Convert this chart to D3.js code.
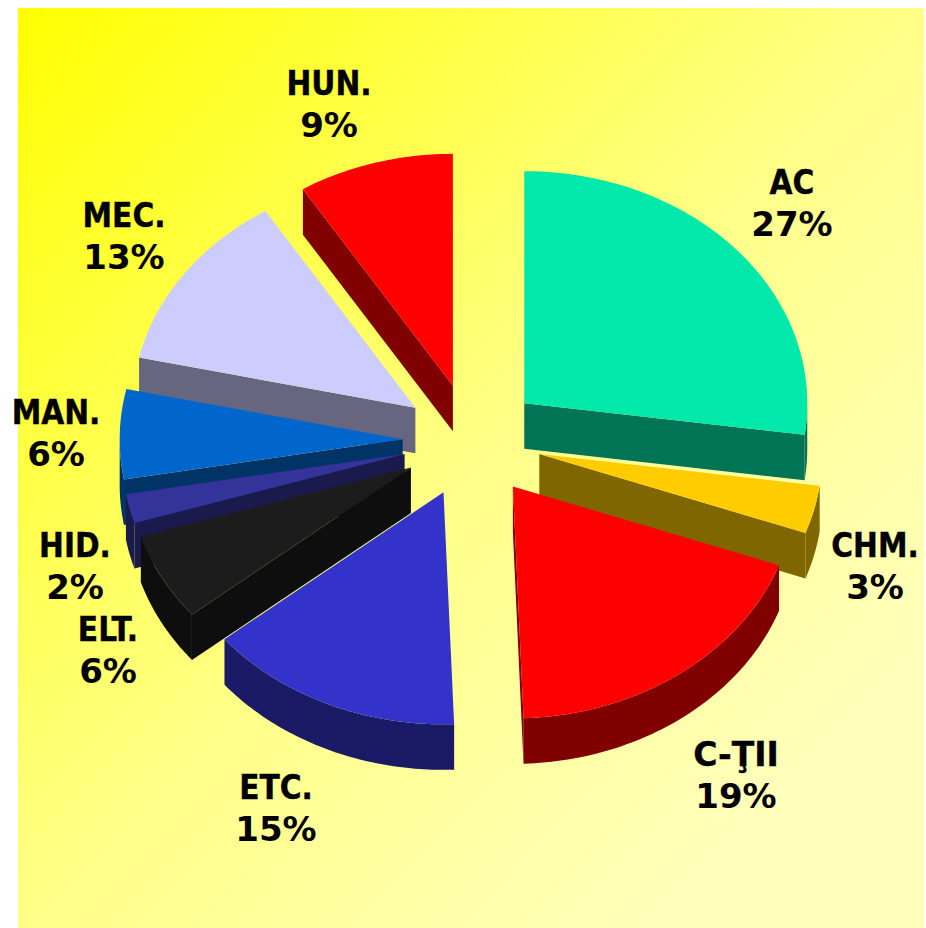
<!DOCTYPE html>
<html>
<head>
<meta charset="utf-8">
<script src="https://cdn.jsdelivr.net/npm/d3@7"></script>
<style>html,body{margin:0;padding:0;background:#fff}svg{display:block}</style>
</head>
<body>
<div id="chart"></div>
<script>
// Category names, printed percentages, and slice sizes
const categories = ["AC", "CHM.", "C-ŢII", "ETC.", "ELT.", "HID.", "MAN.", "MEC.", "HUN."];
const percentLabels = [27, 3, 19, 15, 6, 2, 6, 13, 9];
const sliceShares = [27.2, 3.35, 18.9, 14.7, 6.1, 2.05, 6.25, 12.65, 8.9];
const sliceColors = ["#00E8AA", "#FFCC00", "#FF0000", "#3333CC", "#1C1C1C", "#333399", "#0066CC", "#CCCCFF", "#FF0000"];
// Label anchors: centre x and first-line baseline
const labelX = [792, 875, 736, 276, 108, 75, 56, 124, 329];
const labelY = [194, 557, 766, 799, 641, 557, 424, 227, 95];

const W = 926, H = 928;
const explode = 0.245, depth = 45.5;
const x = d3.scaleLinear().domain([-1, 1]).range([472 - 283, 472 + 283]);
const y = d3.scaleLinear().domain([-1, 1]).range([440.5 - 232, 440.5 + 232]);

const svg = d3.select("#chart").append("svg").attr("width", W).attr("height", H);
const grad = svg.append("defs").append("linearGradient").attr("id", "bg")
  .attr("x1", "0%").attr("y1", "0%").attr("x2", "100%").attr("y2", "100%");
grad.append("stop").attr("offset", "0%").attr("stop-color", "#FFFF00");
grad.append("stop").attr("offset", "50%").attr("stop-color", "#FFFF88");
grad.append("stop").attr("offset", "85%").attr("stop-color", "#FFFFBB");
grad.append("stop").attr("offset", "100%").attr("stop-color", "#FFFFBB");
svg.append("rect").attr("x", 18).attr("y", 8).attr("width", 906).attr("height", 920).attr("fill", "url(#bg)");

const arcs = d3.pie().sort(null).value(d => d)(sliceShares)
  .map((d, i) => ({...d, i, mid: (d.startAngle + d.endAngle) / 2}));
const line = d3.line().x(p => p[0]).y(p => p[1]);

function maker(d) {
  const ox = explode * Math.sin(d.mid), oy = -explode * Math.cos(d.mid);
  return (a, r, drop) => [x(ox + r * Math.sin(a)), y(oy - r * Math.cos(a)) + drop];
}
function arcAngles(a0, a1) {
  return d3.range(0, 61).map(k => a0 + (a1 - a0) * k / 60);
}

const order = arcs.slice().sort((p, q) => d3.ascending(-Math.cos(p.mid), -Math.cos(q.mid)));
const slices = svg.selectAll("g.slice").data(order).join("g").attr("class", "slice");

slices.each(function(d) {
  const g = d3.select(this), P = maker(d);
  const base = sliceColors[d.i];
  const c = d3.rgb(base);
  const side = d3.rgb(c.r / 2, c.g / 2, c.b / 2).formatHex();
  const wall = a => [P(a, 0, 0), P(a, 1, 0), P(a, 1, depth), P(a, 0, depth)];
  if (Math.sin(d.startAngle) < -1e-6)
    g.append("path").attr("d", line(wall(d.startAngle)) + "Z").attr("fill", side);
  if (Math.sin(d.endAngle) > 1e-6)
    g.append("path").attr("d", line(wall(d.endAngle)) + "Z").attr("fill", side);
  const r0 = Math.max(d.startAngle, Math.PI / 2), r1 = Math.min(d.endAngle, 3 * Math.PI / 2);
  if (r1 > r0) {
    const as = arcAngles(r0, r1);
    const pts = as.map(a => P(a, 1, 0)).concat(as.slice().reverse().map(a => P(a, 1, depth)));
    g.append("path").attr("d", line(pts) + "Z").attr("fill", side);
  }
  const top = [P(0, 0, 0)].concat(arcAngles(d.startAngle, d.endAngle).map(a => P(a, 1, 0)));
  g.append("path").attr("d", line(top) + "Z").attr("fill", base);
});

const labels = svg.selectAll("g.label").data(categories).join("g").attr("class", "label")
  .attr("text-anchor", "middle")
  .attr("font-family", "'DejaVu Sans', sans-serif")
  .attr("font-weight", "bold")
  .attr("fill", "#000");
labels.append("text").attr("x", (d, i) => labelX[i]).attr("y", (d, i) => labelY[i])
  .attr("font-size", 33)
  .style("font-stretch", d => d === "C-ŢII" ? "normal" : "condensed")
  .attr("stroke", "#000").attr("stroke-width", 0.4).text(d => d);
labels.append("text").attr("x", (d, i) => labelX[i]).attr("y", (d, i) => labelY[i] + 42)
  .attr("font-size", 34)
  .text((d, i) => percentLabels[i] + "%");
</script>
</body>
</html>
